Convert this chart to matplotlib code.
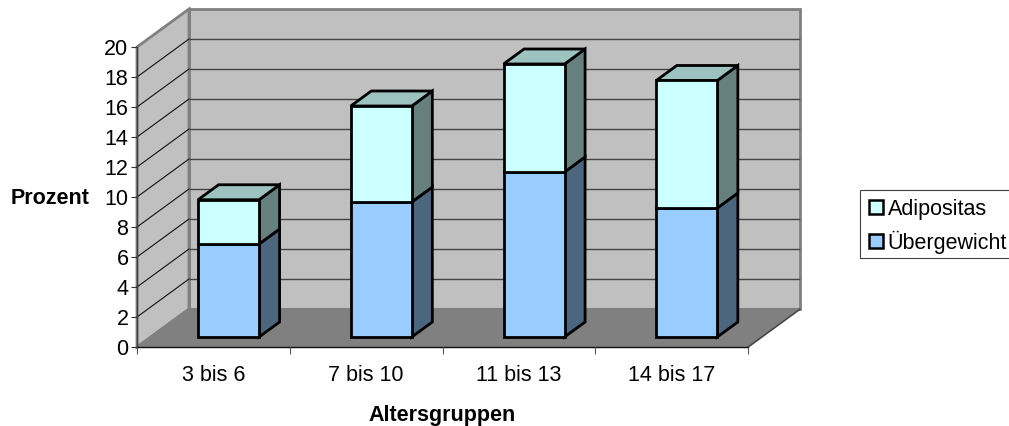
import matplotlib
matplotlib.use("Agg")
import matplotlib.pyplot as plt
from matplotlib.legend_handler import HandlerPatch
from matplotlib.patches import Polygon, Rectangle

plt.rcParams['font.family'] = ['Liberation Sans', 'DejaVu Sans']

# Data
groups = ["3 bis 6", "7 bis 10", "11 bis 13", "14 bis 17"]
uebergewicht = [6.2, 9.0, 11.0, 8.6]
adipositas = [2.95, 6.4, 7.2, 8.5]
y_ticks = list(range(0, 21, 2))

W, H = 1009, 426
PX_CAT = 152.75   # pixels per category
PX_VAL = 15.0     # pixels per percent
DEPTH_X = 52 / PX_CAT
DEPTH_Y = 38 / PX_VAL
BAR_W = 61 / PX_CAT
BAR_SHIFT = 1.5 / PX_CAT
D_FRONT = 10 / 38
D_BACK = 25 / 38
FS = 15.5


def proj(x, y, d=0.0):
    # fake 3d: d=0 front of the floor, d=1 back wall
    return (x + d * DEPTH_X, y + d * DEPTH_Y)


fig = plt.figure(figsize=(W / 100, H / 100), dpi=100)
ax = fig.add_axes([137 / W, (H - 347) / H, 611 / W, 300 / H])
ax.set_xlim(0, 4)
ax.set_ylim(0, 20)
ax.patch.set_visible(False)


def face(pts, fc, ec, lw, z):
    ax.add_patch(Polygon(pts, closed=True, facecolor=fc, edgecolor=ec, linewidth=lw,
                         clip_on=False, zorder=z, joinstyle='miter'))


wall_ec = '#808080'
# back wall, side wall, floor
face([proj(0, 0, 1), proj(4, 0, 1), proj(4, 20, 1), proj(0, 20, 1)], '#c0c0c0', wall_ec, 2.0, 0.5)
face([proj(0, 0, 0), proj(0, 0, 1), proj(0, 20, 1), proj(0, 20, 0)], '#c0c0c0', wall_ec, 2.0, 0.6)
face([proj(0, 0, 0), proj(4, 0, 0), proj(4, 0, 1), proj(0, 0, 1)], '#808080', wall_ec, 1.5, 0.7)

# gridlines
for v in y_ticks[1:-1]:
    a, b, c = proj(0, v, 0), proj(0, v, 1), proj(4, v, 1)
    ax.plot([a[0], b[0]], [a[1], b[1]], color='#111111', lw=0.8, clip_on=False, zorder=0.8)
    ax.plot([b[0] + 0.008, c[0] - 0.008], [b[1], c[1]], color='#444444', lw=1.0, clip_on=False, zorder=0.8)

# outer edge of the floor on the right
a, b = proj(4, 0, 0), proj(4, 0, 1)
ax.plot([a[0], b[0]], [a[1], b[1]], color='#404040', lw=0.9, clip_on=False, zorder=0.9)


def draw_segment(i, y0, y1, front, side, top=None):
    x0 = i + 0.5 + BAR_SHIFT - BAR_W / 2
    x1 = i + 0.5 + BAR_SHIFT + BAR_W / 2
    ec = 'black'
    lw = 2.0
    face([proj(x1, y0, D_FRONT), proj(x1, y0, D_BACK), proj(x1, y1, D_BACK), proj(x1, y1, D_FRONT)],
         side, ec, lw, 2 + i)
    if top:
        face([proj(x0, y1, D_FRONT), proj(x1, y1, D_FRONT), proj(x1, y1, D_BACK), proj(x0, y1, D_BACK)],
             top, ec, lw, 2 + i)
    face([proj(x0, y0, D_FRONT), proj(x1, y0, D_FRONT), proj(x1, y1, D_FRONT), proj(x0, y1, D_FRONT)],
         front, ec, lw, 2.1 + i)


for i in range(len(groups)):
    u = uebergewicht[i]
    t = u + adipositas[i]
    draw_segment(i, 0, u, '#99ccff', '#4d6680')
    draw_segment(i, u, t, '#ccffff', '#668080', '#9cc3c0')

# axes
for s in ['top', 'right']:
    ax.spines[s].set_visible(False)
ax.spines['left'].set_color('#404040')
ax.spines['left'].set_linewidth(1.0)
ax.spines['bottom'].set_color('#111111')
ax.spines['bottom'].set_linewidth(1.0)
ax.spines['left'].set_zorder(1)
ax.spines['bottom'].set_zorder(1)
ax.set_yticks(y_ticks)
ax.set_xticks(range(5))
ax.set_xticklabels([])
ax.set_xticks([i + 0.5 for i in range(4)], minor=True)
ax.set_xticklabels(groups, minor=True)
ax.tick_params(axis='y', length=4, width=0.8, color='#333333', pad=2.2, labelsize=FS, labelcolor='black')
ax.tick_params(axis='x', which='major', length=5, width=0.8, color='#555555')
ax.tick_params(axis='x', which='minor', length=0, pad=13, labelsize=FS, labelcolor='black')

fig.text(50.5 / W, 1 - 198 / H, "Prozent", fontsize=FS, fontweight='bold', ha='center', va='center')
fig.text(442 / W, 1 - 415 / H, "Altersgruppen", fontsize=FS, fontweight='bold', ha='center', va='center')


# legend key: small square, inset a little from the frame
def make_key(legend, orig_handle, xdescent, ydescent, width, height, fontsize):
    return Rectangle((2.5, 0.5), 10, 10)


# frame drawn apart from the legend, the rows sit a bit lower than its padding would allow
fig.add_artist(Rectangle((860 / W, 1 - 258 / H), 160 / W, 68 / H, transform=fig.transFigure,
                         facecolor='white', edgecolor='#404040', linewidth=0.8))
handles = [Rectangle((0, 0), 1, 1, fc='#ccffff', ec='black', lw=1.8),
           Rectangle((0, 0), 1, 1, fc='#99ccff', ec='black', lw=1.8)]
leg = fig.legend(handles, ["Adipositas", "Übergewicht"], loc='upper left',
                 bbox_to_anchor=(860 / W, 1 - 193.5 / H), fontsize=FS, frameon=False,
                 handlelength=0.79, handleheight=0.8,
                 handletextpad=0.25, borderpad=0.25, labelspacing=0.5, borderaxespad=0,
                 handler_map={Rectangle: HandlerPatch(patch_func=make_key)})

fig.savefig("out.png", dpi=100)
plt.close(fig)
